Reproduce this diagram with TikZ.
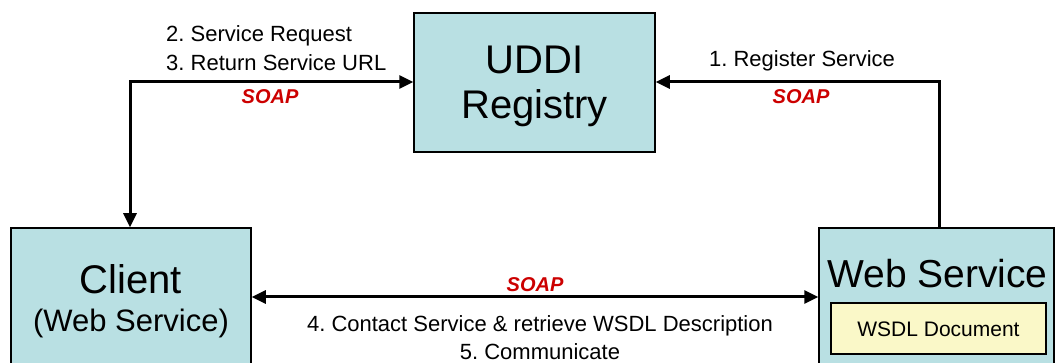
\documentclass[tikz,border=0pt]{standalone}
\usepackage{fontspec}
\setmainfont{Liberation Sans}
\usetikzlibrary{arrows.meta}
\definecolor{boxblue}{RGB}{185,224,227}
\definecolor{docyellow}{RGB}{250,248,200}
\definecolor{soapred}{RGB}{204,0,0}
\frenchspacing
\newcommand{\fsz}[1]{\fontsize{#1}{#1}\selectfont}
\tikzset{
  entity/.style={draw=black, line width=1.5pt, fill=boxblue, inner sep=0pt},
  docbox/.style={draw=black, line width=1.2pt, fill=docyellow, inner sep=0pt},
  tip/.tip={Triangle[length=14pt,width=13pt]},
  flow/.style={line width=3pt, -tip},
  twoway/.style={line width=3pt, tip-tip},
  lbl/.style={inner sep=0pt, font=\fsz{22}},
  soap/.style={inner sep=0pt, text=soapred, font=\fsz{20}\bfseries\itshape},
}
\begin{document}
\begin{tikzpicture}[x=1pt,y=-1pt]
  \useasboundingbox (0,0) rectangle (1055,363);
  \clip (0,0) rectangle (1055,363);

  % registry, client and service boxes
  \node[entity, minimum width=241pt, minimum height=139pt] (uddi) at (534.5,82.5) {};
  \node[entity, minimum width=240pt, minimum height=160pt] (client) at (131,308) {};
  \node[entity, minimum width=235pt, minimum height=160pt] (ws) at (936.5,308) {};
  \node[docbox, minimum width=215pt, minimum height=51pt] (wsdl) at (938.5,328.5) {};

  % box titles
  \node[inner sep=0pt, font=\fsz{40}] (uddi1) at (534.5,60) {UDDI};
  \node[inner sep=0pt, font=\fsz{40}] (uddi2) at (534.5,108) {Registry};
  \node[inner sep=0pt, font=\fsz{40}] (cl1) at (131,279) {Client};
  \node[inner sep=0pt, font=\fsz{31}] (cl2) at (131,323) {(Web Service)};
  \node[inner sep=0pt, font=\fsz{39}] (ws1) at (937.5,274) {Web Service};
  \node[inner sep=0pt, font=\fsz{21}] (wsdlt) at (938.5,329) {WSDL Document};

  % connector corners
  \coordinate (cornerL) at (130,82);
  \coordinate (cornerR) at (939,82);

  % lookup: client <-> registry
  \draw[twoway] (client.north -| cornerL) -- (cornerL) -- (uddi.west |- cornerL);
  % publication: service -> registry
  \draw[flow] (ws.north -| cornerR) -- (cornerR) -- (uddi.east |- cornerR);
  % direct exchange: client <-> service
  \draw[twoway] (client.east |- 0,297) -- (ws.west |- 0,297);

  % labels
  \node[lbl, anchor=west] (l2) at (166,36) {2. Service Request};
  \node[lbl, anchor=west] (l3) at (166,63) {3. Return Service URL};
  \node[soap] (s1) at (270,97) {SOAP};
  \node[lbl] (l1) at (802,61) {1. Register Service};
  \node[soap] (s2) at (801,97) {SOAP};
  \node[soap] (s3) at (535,285) {SOAP};
  \node[lbl] (l4) at (540,326) {4. Contact Service \& retrieve WSDL Description};
  \node[lbl] (l5) at (540,352) {5. Communicate};
\end{tikzpicture}
\end{document}
